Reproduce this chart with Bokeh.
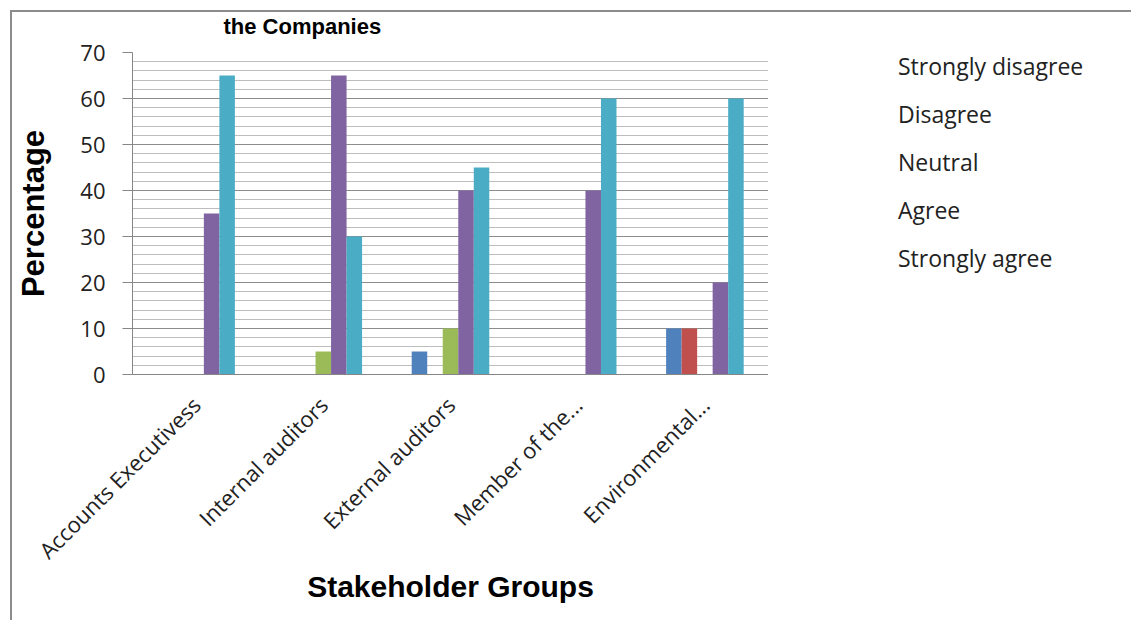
import math
from bokeh.plotting import figure
from bokeh.layouts import row
from bokeh.models import (FactorRange, Range1d, Legend, LegendItem, SingleIntervalTicker)
from bokeh.transform import dodge
from bokeh.embed import file_html
from bokeh.resources import INLINE

# ---- data ----
groups = ["Accounts Executivess", "Internal auditors", "External auditors",
          "Member of the...", "Environmental..."]
series_names = ["Strongly disagree", "Disagree", "Neutral", "Agree", "Strongly agree"]
strongly_disagree = [0, 0, 5, 0, 10]
disagree = [0, 0, 0, 0, 10]
neutral = [0, 5, 10, 0, 0]
agree = [35, 65, 40, 40, 20]
strongly_agree = [65, 30, 45, 60, 60]
series_values = [strongly_disagree, disagree, neutral, agree, strongly_agree]
colors = ["#4F81BD", "#C0504D", "#9BBB59", "#8064A2", "#4BACC6"]

W, H = 1131, 620
FL, FR, FT, FB = 132, 768, 52, 374
LINE = "linear-gradient(#8c8c8c,#8c8c8c)"

# ---- main chart ----
p = figure(width=FR, height=H, x_range=FactorRange(factors=groups, range_padding=0),
           y_range=Range1d(0, 70), output_backend="svg", toolbar_location=None,
           min_border_left=FL, min_border_right=0, min_border_top=FT,
           min_border_bottom=H - FB, title="the Companies")
p.outline_line_color = None
p.background_fill_color = "white"
p.border_fill_alpha = 0
p.styles = {
    "background-color": "white",
    "background-image": f"{LINE}, {LINE}",
    "background-size": "100% 2px, 2px 100%",
    "background-position": "10px 10px, 10px 10px",
    "background-repeat": "no-repeat",
}

p.title.text_font = "Liberation Sans"
p.title.text_font_style = "bold"
p.title.text_font_size = "22px"
p.title.text_color = "#000000"
p.title.align = "left"
p.title.offset = 91
p.title.vertical_align = "top"
p.title.standoff = 24

bw = 0.122
for i, (name, vals, c) in enumerate(zip(series_names, series_values, colors)):
    p.vbar(x=dodge("g", (i - 2) * bw, range=p.x_range), top="v", width=bw,
           source={"g": groups, "v": vals}, fill_color=c, line_color=None)

xax, yax = p.below[0], p.left[0]
yax.ticker = SingleIntervalTicker(interval=10, num_minor_ticks=5)
p.ygrid.grid_line_color = "#8c8c8c"
p.ygrid.minor_grid_line_color = "#bdbdbd"
p.xgrid.grid_line_color = None

for ax in (xax, yax):
    ax.axis_line_color = "#868686"
    ax.major_label_text_font = "Open Sans"
    ax.major_label_text_font_size = "22px"
    ax.major_label_text_color = "#222222"
    ax.axis_label_text_font = "Liberation Sans"
    ax.axis_label_text_font_style = "bold"
    ax.axis_label_text_font_size = "30px"
    ax.axis_label_text_color = "#000000"
    ax.minor_tick_out = 0
    ax.minor_tick_in = 0

yax.major_tick_out = 10
yax.major_tick_in = 0
yax.major_tick_line_color = "#868686"
yax.major_label_standoff = 17
yax.axis_label = "Percentage"
yax.axis_label_text_font_size = "31px"
yax.axis_label_standoff = 26

xax.major_tick_out = 0
xax.major_tick_in = 0
xax.major_tick_line_color = None
xax.major_label_orientation = math.pi / 4
xax.major_label_standoff = 26
xax.axis_label = "Stakeholder Groups"
xax.axis_label_standoff = -8

# ---- legend panel (separate figure to the right) ----
p2 = figure(width=W - FR, height=H, x_range=Range1d(0, 1), y_range=Range1d(0, 1),
            output_backend="svg", toolbar_location=None,
            x_axis_location=None, y_axis_location=None,
            min_border_left=0, min_border_right=0, min_border_top=0, min_border_bottom=0)
p2.outline_line_color = None
p2.background_fill_alpha = 0
p2.border_fill_alpha = 0
p2.grid.visible = False
p2.styles = {
    "background-color": "white",
    "background-image": LINE,
    "background-size": "100% 2px",
    "background-position": "0px 10px",
    "background-repeat": "no-repeat",
}

legend_renderers = []
for name, c in zip(series_names, colors):
    r = p2.vbar(x=[], top=[], width=0.1, fill_color=c, line_color=None)
    legend_renderers.append(r)

legend = Legend(items=[LegendItem(label=n, renderers=[r])
                       for n, r in zip(series_names, legend_renderers)],
                location=(108, 100), orientation="vertical", glyph_width=14, glyph_height=14,
                label_standoff=8, spacing=16, padding=0, margin=0,
                border_line_color=None, background_fill_alpha=0,
                label_text_font="Open Sans", label_text_font_size="23px",
                label_text_color="#222222")
p2.add_layout(legend, "center")

layout = row(p, p2, spacing=0)
open("out.html", "w").write(file_html(layout, INLINE))
